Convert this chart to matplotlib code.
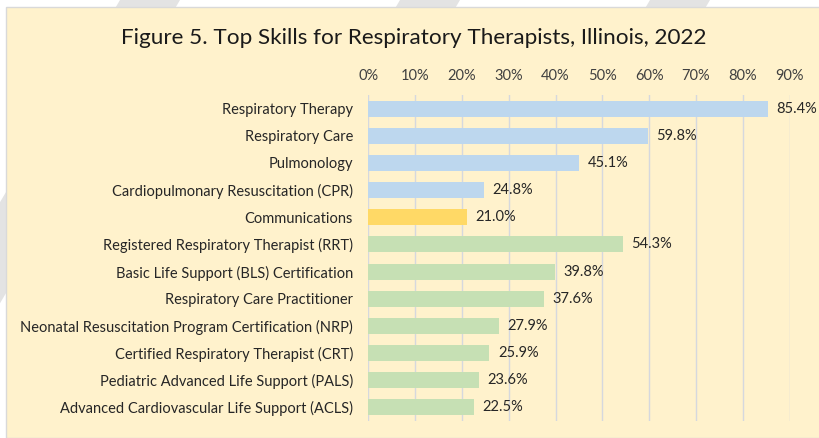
import matplotlib.pyplot as plt
from matplotlib.patches import Rectangle, Polygon
from matplotlib.ticker import FuncFormatter

# data (top to bottom as shown)
skills = [
    "Respiratory Therapy",
    "Respiratory Care",
    "Pulmonology",
    "Cardiopulmonary Resuscitation (CPR)",
    "Communications",
    "Registered Respiratory Therapist (RRT)",
    "Basic Life Support (BLS) Certification",
    "Respiratory Care Practitioner",
    "Neonatal Resuscitation Program Certification (NRP)",
    "Certified Respiratory Therapist (CRT)",
    "Pediatric Advanced Life Support (PALS)",
    "Advanced Cardiovascular Life Support (ACLS)",
]
shares = [0.854, 0.598, 0.451, 0.248, 0.210, 0.543, 0.398, 0.376, 0.279, 0.259, 0.236, 0.225]
groups = ["specialized"] * 4 + ["baseline"] + ["certification"] * 7
xticks = [0, 0.1, 0.2, 0.3, 0.4, 0.5, 0.6, 0.7, 0.8, 0.9]

group_colors = {"specialized": "#BDD7EE", "baseline": "#FFD966", "certification": "#C6E0B4"}
plt.rcParams['font.family'] = ['Lato', 'DejaVu Sans']

W, H = 819, 438
fig = plt.figure(figsize=(W / 100, H / 100), dpi=100)
fig.patch.set_facecolor('white')

# faint watermark stripes in the margin
for x0 in [-60, 120, 400, 650]:
    fig.patches.append(Polygon([(x0 / W, 1), ((x0 + 60) / W, 1), ((x0 - 200) / W, 0), ((x0 - 260) / W, 0)],
                               closed=True, transform=fig.transFigure, facecolor='#E3E3E3',
                               edgecolor='none', zorder=0))

# beige chart area
fig.patches.append(Rectangle((6 / W, 0), 1, 1 - 7 / H, transform=fig.transFigure,
                             facecolor='#FFF2CC', edgecolor='#D9D9D9', linewidth=1, zorder=1))

ax = fig.add_axes([368.2 / W, 1 - 421 / H, (789.7 - 368.2) / W, (421 - 95) / H])
ax.set_facecolor('none')
ax.set_zorder(2)

ypos = list(range(len(skills)))
colors = [group_colors[g] for g in groups]
ax.barh(ypos, shares, height=0.59, color=colors, zorder=3)

for y, v in zip(ypos, shares):
    ax.annotate(f"{v * 100:.1f}%", (v, y), xytext=(6, 0), textcoords='offset points',
                va='center', ha='left', fontsize=10.5, color='#262626', clip_on=False)

ax.set_xlim(0, 0.9)
ax.set_ylim(len(skills) - 0.5, -0.5)
ax.set_xticks(xticks)
ax.xaxis.set_major_formatter(FuncFormatter(lambda v, p: f"{v * 100:.0f}%"))
ax.xaxis.tick_top()
ax.set_yticks(ypos)
ax.set_yticklabels(skills)
ax.tick_params(axis='x', length=0, pad=9, labelsize=10.5, labelcolor='#404040')
ax.tick_params(axis='y', length=0, pad=11, labelsize=10.5, labelcolor='#262626')
ax.grid(axis='x', color='#D5D8DE', linewidth=1.0, zorder=0)
for s in ax.spines.values():
    s.set_visible(False)

fig.text(414 / W, 1 - 38 / H, "Figure 5. Top Skills for Respiratory Therapists, Illinois, 2022",
         ha='center', va='center', fontsize=16.2, color='#1A1A1A', zorder=3)

fig.savefig('out.png', dpi=100, facecolor=fig.get_facecolor())
